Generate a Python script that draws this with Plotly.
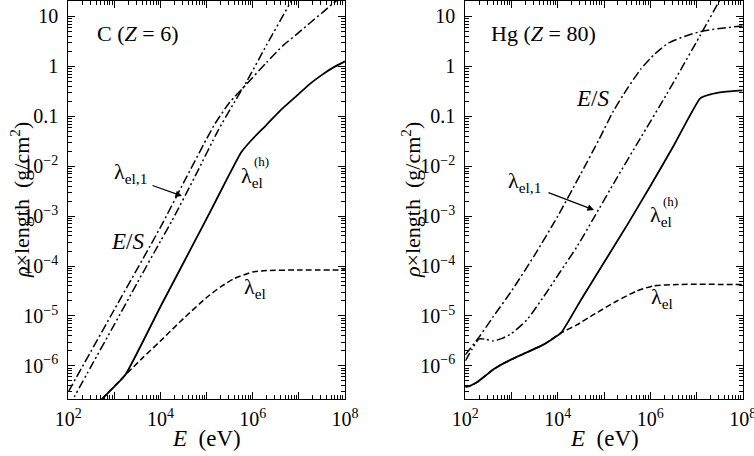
import numpy as np
import plotly.graph_objects as go

# values, stored as log10(E / eV) and log10(rho*length / g cm^-2)

# carbon, Z = 6
c_es_logE = [2.0, 3.0, 4.0, 4.5, 5.0, 5.18, 5.5, 5.87, 6.3, 6.66, 7.0, 7.24, 7.5, 7.75, 8.0]
c_es_logv = [-6.52, -4.87, -3.22, -2.33, -1.45, -1.15, -0.72, -0.35, 0.08, 0.42, 0.68, 0.87, 1.07, 1.27, 1.45]
c_l1_logE = [2.0, 2.5, 3.0, 3.5, 4.0, 4.25, 4.75, 5.25, 5.6, 5.87, 6.3, 6.84, 7.0]
c_l1_logv = [-6.84, -6.0, -5.17, -4.33, -3.5, -3.09, -2.2, -1.28, -0.72, -0.3, 0.43, 1.32, 1.6]
c_lh_logE = [2.6, 2.69, 3.23, 4.0, 5.0, 5.5, 5.75, 6.0, 6.3, 6.6, 7.0, 7.24, 7.5, 7.75, 8.0]
c_lh_logv = [-6.79, -6.70, -6.19, -4.81, -3.05, -2.15, -1.72, -1.45, -1.17, -0.88, -0.55, -0.35, -0.17, -0.02, 0.10]
c_el_logE = [2.6, 2.69, 3.23, 3.6, 4.0, 4.5, 5.0, 5.3, 5.6, 6.0, 6.3, 7.0, 8.0]
c_el_logv = [-6.79, -6.70, -6.19, -5.85, -5.5, -5.05, -4.63, -4.42, -4.25, -4.12, -4.09, -4.08, -4.08]

# mercury, Z = 80
hg_es_logE = [2.0, 2.3, 2.6, 3.0, 3.5, 4.0, 4.5, 4.9, 5.2, 5.5, 5.8, 6.1, 6.4, 6.8, 7.1, 7.5, 8.0]
hg_es_logv = [-5.78, -5.42, -5.02, -4.5, -3.78, -3.0, -2.15, -1.45, -0.9, -0.45, -0.05, 0.25, 0.47, 0.62, 0.70, 0.76, 0.81]
hg_l1_logE = [2.0, 2.15, 2.3, 2.45, 2.6, 2.8, 3.0, 3.33, 3.69, 4.05, 4.41, 4.77, 5.27, 5.78, 6.36, 7.08, 7.5, 7.6]
hg_l1_logv = [-5.9, -5.66, -5.46, -5.47, -5.5, -5.45, -5.35, -5.08, -4.62, -4.12, -3.62, -3.05, -2.25, -1.45, -0.55, 0.62, 1.32, 1.5]
hg_lh_logE = [2.0, 2.1, 2.25, 2.46, 2.61, 2.75, 3.0, 3.33, 3.7, 4.07, 4.5, 5.0, 5.5, 6.0, 6.5, 7.08, 7.3, 7.6, 8.0]
hg_lh_logv = [-6.42, -6.40, -6.33, -6.18, -6.07, -5.99, -5.87, -5.73, -5.57, -5.34, -4.68, -3.93, -3.18, -2.4, -1.6, -0.64, -0.56, -0.51, -0.48]
hg_el_logE = [2.0, 2.1, 2.25, 2.46, 2.61, 2.75, 3.0, 3.33, 3.7, 4.07, 4.41, 4.78, 5.28, 5.71, 6.07, 6.58, 8.0]
hg_el_logv = [-6.42, -6.40, -6.33, -6.18, -6.07, -5.99, -5.87, -5.73, -5.57, -5.34, -5.18, -4.97, -4.70, -4.50, -4.40, -4.37, -4.37]

# ticks
x_tickvals = [1e2, 1e3, 1e4, 1e5, 1e6, 1e7, 1e8]
x_ticktext = ["10<sup>2</sup>", "", "10<sup>4</sup>", "", "10<sup>6</sup>", "", "10<sup>8</sup>"]
y_tickvals = [1e-6, 1e-5, 1e-4, 1e-3, 1e-2, 1e-1, 1, 10]
y_ticktext = ["10<sup>−6</sup>", "10<sup>−5</sup>", "10<sup>−4</sup>", "10<sup>−3</sup>",
              "10<sup>−2</sup>", "0.1", "1", "10"]

FONT = "Liberation Serif"
W, H = 754, 456

DASHDOT = "9px,3px,2px,3px"
DASHDOTDOT = "9px,3px,2px,3px,2px,3px"
DASHED = "6px,3px"


def pts(le, lv):
    return np.power(10.0, le), np.power(10.0, lv)


fig = go.Figure()

panels = [
    ("x", "y", c_el_logE, c_el_logv, c_lh_logE, c_lh_logv, c_l1_logE, c_l1_logv, c_es_logE, c_es_logv),
    ("x2", "y2", hg_el_logE, hg_el_logv, hg_lh_logE, hg_lh_logv, hg_l1_logE, hg_l1_logv, hg_es_logE, hg_es_logv),
]
for xa, ya, eE, ev, hE, hv, lE, lv, sE, sv in panels:
    x, y = pts(eE, ev)
    fig.add_trace(go.Scatter(x=x, y=y, xaxis=xa, yaxis=ya, mode="lines",
                             line=dict(color="black", width=1.5, dash=DASHED, shape="spline", smoothing=0.6)))
    x, y = pts(hE, hv)
    fig.add_trace(go.Scatter(x=x, y=y, xaxis=xa, yaxis=ya, mode="lines",
                             line=dict(color="black", width=1.8, shape="spline", smoothing=0.4)))
    x, y = pts(lE, lv)
    fig.add_trace(go.Scatter(x=x, y=y, xaxis=xa, yaxis=ya, mode="lines",
                             line=dict(color="black", width=1.5, dash=DASHDOTDOT, shape="spline", smoothing=0.6)))
    x, y = pts(sE, sv)
    fig.add_trace(go.Scatter(x=x, y=y, xaxis=xa, yaxis=ya, mode="lines",
                             line=dict(color="black", width=1.5, dash=DASHDOT, shape="spline", smoothing=0.6)))

minor_x = [m * 10.0 ** k for k in range(2, 8) for m in range(2, 10)]
minor_y = [m * 10.0 ** k for k in range(-7, 2) for m in range(2, 10)]

ydom = [1 - 399.3 / H, 1 - 1.0 / H]
axis_common = dict(type="log", showline=True, linecolor="black", linewidth=1.2, mirror="allticks",
                   ticks="inside", ticklen=7, tickwidth=1, tickcolor="black", showgrid=False,
                   zeroline=False, automargin=False, ticklabeloverflow="allow",
                   tickfont=dict(family=FONT, size=20, color="black"))
xaxis = dict(axis_common, range=[2, 8], tickmode="array", tickvals=x_tickvals, ticktext=x_ticktext,
             ticklabelstandoff=2,
             minor=dict(ticks="inside", ticklen=4, tickcolor="black", tickvals=minor_x))
yaxis = dict(axis_common, range=[-6.67, 1.31], tickmode="array", tickvals=y_tickvals, ticktext=y_ticktext,
             ticklabelstandoff=5,
             minor=dict(ticks="inside", ticklen=4, tickcolor="black", tickvals=minor_y))

fig.update_layout(
    width=W, height=H, margin=dict(l=0, r=0, t=0, b=0, autoexpand=False),
    paper_bgcolor="white", plot_bgcolor="white", showlegend=False,
    xaxis=dict(xaxis, domain=[68.3 / W, 345.0 / W], anchor="y"),
    yaxis=dict(yaxis, domain=ydom, anchor="x"),
    xaxis2=dict(xaxis, domain=[465.3 / W, 742.7 / W], anchor="y2"),
    yaxis2=dict(yaxis, domain=ydom, anchor="x2"),
)


def px(X, Y):
    return X / W, 1 - Y / H


def label(text, X, Y, size=22, xanchor="left"):
    x, y = px(X, Y)
    fig.add_annotation(text=text, x=x, y=y, xref="paper", yref="paper", showarrow=False,
                       xanchor=xanchor, yanchor="middle",
                       font=dict(family=FONT, size=size, color="black"))


def arrow(X0, Y0, X1, Y1):
    x, y = px(X1, Y1)
    fig.add_annotation(text="", x=x, y=y, xref="paper", yref="paper", showarrow=True,
                       ax=X0 - X1, ay=Y0 - Y1, arrowhead=2, arrowsize=1.1, arrowwidth=1.2,
                       arrowcolor="black")


# panel titles
label("C (<i>Z</i> = 6)", 95, 33, 22)
label("Hg (<i>Z</i> = 80)", 489, 33, 22)

# curve labels, left
label("λ<sub>el,1</sub>", 112, 173)
arrow(151, 185, 182, 196)
label("<i>E</i>/<i>S</i>", 109, 241, 23)
label("λ<sub>el</sub>", 239, 177)
label("(h)", 261, 161, 13, "center")
label("λ<sub>el</sub>", 242, 288)

# curve labels, right
label("λ<sub>el,1</sub>", 506, 182)
arrow(547, 192, 594, 210)
label("<i>E</i>/<i>S</i>", 574, 99, 23)
label("λ<sub>el</sub>", 648, 216)
label("(h)", 670, 201, 13, "center")
label("λ<sub>el</sub>", 649, 298)

# axis titles
ytitle = "<i>ρ</i>×length\u00a0\u00a0(g/cm<sup>2</sup>)"
xtitle = "<i>E</i>\u00a0\u00a0(eV)"
for X in (20, 411):
    x, y = px(X, 200)
    fig.add_annotation(text=ytitle, x=x, y=y, xref="paper", yref="paper", showarrow=False,
                       xanchor="center", yanchor="middle",
                       textangle=-90, font=dict(family=FONT, size=22, color="black"))
for X in (206, 604):
    x, y = px(X, 438)
    fig.add_annotation(text=xtitle, x=x, y=y, xref="paper", yref="paper", showarrow=False,
                       xanchor="center", yanchor="middle",
                       font=dict(family=FONT, size=23, color="black"))

# page margin off so the figure fills the 754x456 window
fig.write_html("out.html", config={"displayModeBar": False},
               post_script="document.body.style.margin='0';")
